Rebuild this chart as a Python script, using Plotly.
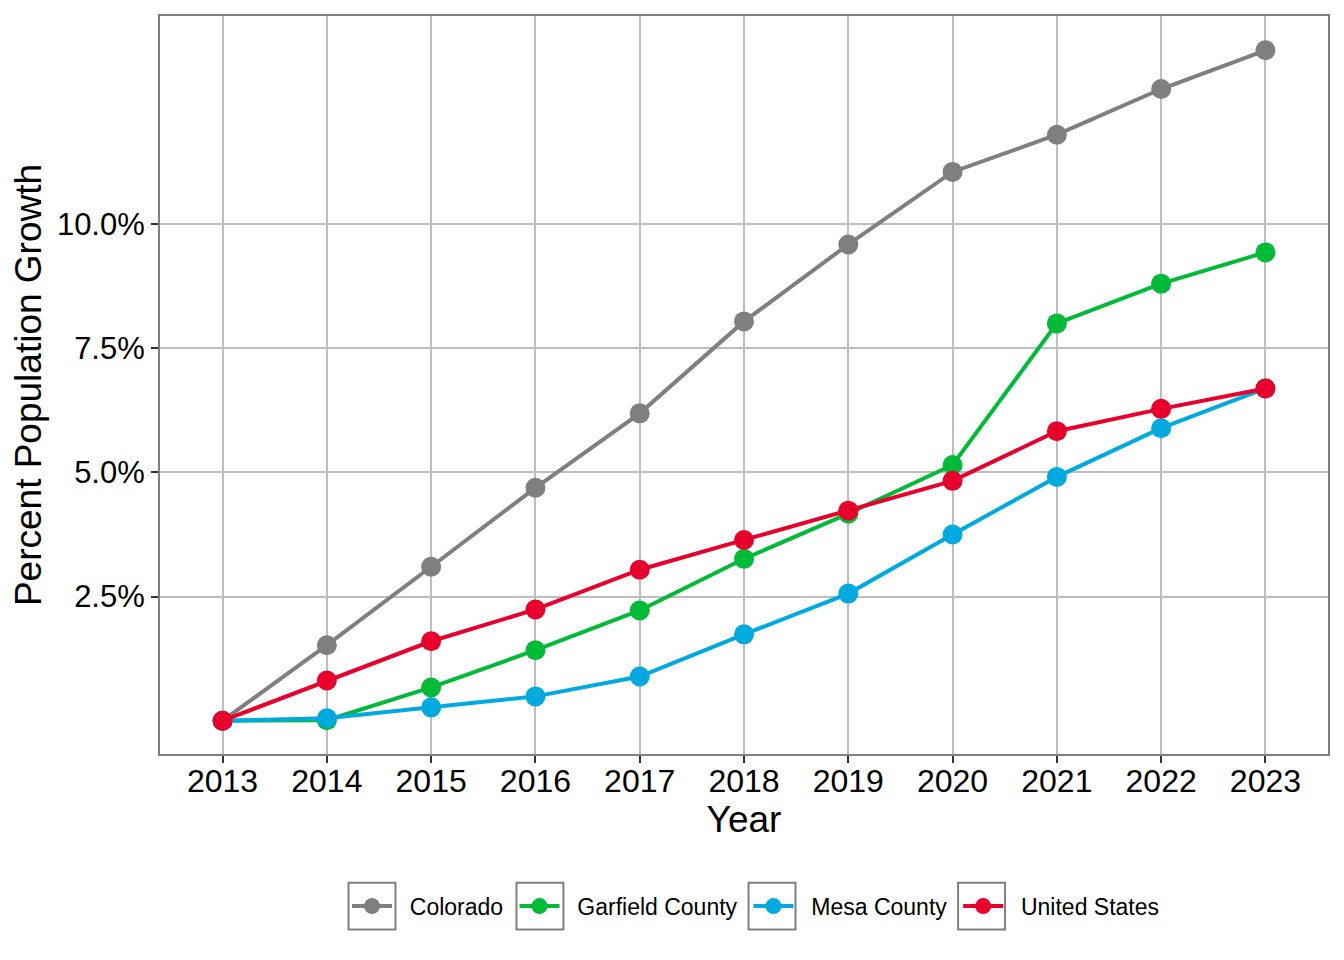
import plotly.graph_objects as go

years = [2013, 2014, 2015, 2016, 2017, 2018, 2019, 2020, 2021, 2022, 2023]
colorado = [0.0, 1.52, 3.10, 4.69, 6.19, 8.04, 9.59, 11.05, 11.80, 12.72, 13.50]
garfield = [0.0, 0.01, 0.67, 1.42, 2.22, 3.26, 4.17, 5.15, 8.00, 8.80, 9.43]
mesa = [0.0, 0.05, 0.27, 0.49, 0.89, 1.74, 2.56, 3.75, 4.91, 5.89, 6.69]
united_states = [0.0, 0.81, 1.60, 2.24, 3.04, 3.64, 4.23, 4.83, 5.83, 6.28, 6.69]

series_names = ["Colorado", "Garfield County", "Mesa County", "United States"]
series_values = [colorado, garfield, mesa, united_states]
series_colors = ["#7F7F7F", "#00BA38", "#00AADF", "#E8002D"]

y_tickvals = [2.5, 5.0, 7.5, 10.0]
y_ticktext = ["2.5%", "5.0%", "7.5%", "10.0%"]

# legend key box centres (paper x) and vertical extent (paper y)
key_box_centers = [0.1815, 0.3253, 0.5240, 0.7034]
key_box_half_w = 0.0201
key_box_y = (-0.2378, -0.1743)

fig = go.Figure()
for name, vals, col in zip(series_names, series_values, series_colors):
    fig.add_trace(go.Scatter(
        x=years, y=vals, name="\u00a0\u00a0" + name + "\u00a0", mode="lines+markers",
        line=dict(color=col, width=4),
        marker=dict(color=col, size=20),
    ))

for cx in key_box_centers:
    fig.add_shape(type="rect", xref="paper", yref="paper",
                  x0=cx - key_box_half_w, x1=cx + key_box_half_w,
                  y0=key_box_y[0], y1=key_box_y[1],
                  line=dict(color="#7F7F7F", width=2), fillcolor="rgba(0,0,0,0)",
                  layer="above")

font = "Liberation Sans, Arial, sans-serif"
fig.update_layout(
    width=1344, height=960,
    paper_bgcolor="white", plot_bgcolor="white",
    margin=dict(l=152, r=24, t=6, b=214),
    font=dict(family=font, color="black"),
    showlegend=True,
    legend=dict(
        orientation="h", x=0.1601, xanchor="left", y=-0.2061, yanchor="middle",
        font=dict(size=23, color="black"), itemwidth=40,
        bgcolor="rgba(0,0,0,0)",
    ),
)
fig.update_xaxes(
    range=[2012.4, 2023.6], tickvals=years, ticktext=[str(y) for y in years],
    showgrid=True, gridcolor="#BEBEBE", gridwidth=2,
    showline=True, linecolor="#7F7F7F", linewidth=2, mirror=True,
    ticks="outside", ticklen=7, tickwidth=2, tickcolor="#333333",
    tickfont=dict(size=32, color="black"), ticklabelstandoff=-9,
    title=dict(text="Year", font=dict(size=37, color="black"), standoff=8),
    zeroline=False,
)
fig.update_yaxes(
    range=[-0.67, 14.19], tickvals=y_tickvals, ticktext=y_ticktext,
    showgrid=True, gridcolor="#BEBEBE", gridwidth=2,
    showline=True, linecolor="#7F7F7F", linewidth=2, mirror=True,
    ticks="outside", ticklen=7, tickwidth=2, tickcolor="#333333",
    tickfont=dict(size=31, color="black"),
    title=dict(text="Percent Population Growth", font=dict(size=37, color="black"), standoff=10),
    zeroline=False,
)

fig.write_html("out.html")
